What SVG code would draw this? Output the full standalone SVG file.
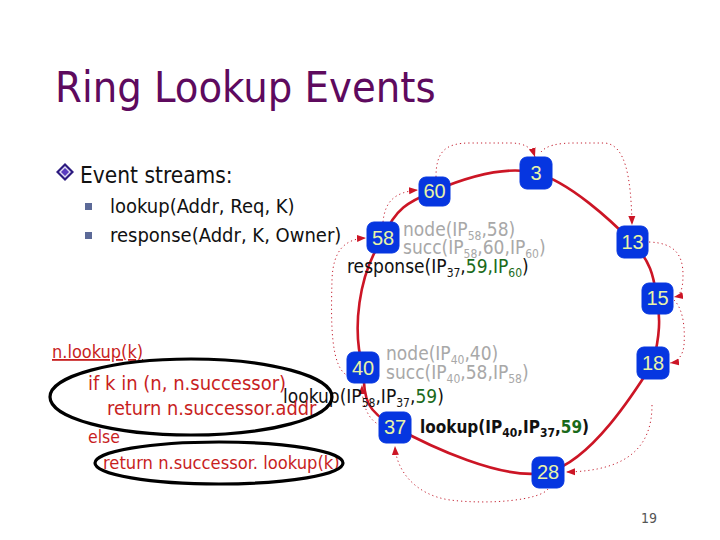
<svg xmlns="http://www.w3.org/2000/svg" width="720" height="540" viewBox="0 0 720 540">
<style>
text{font-family:"DejaVu Sans Condensed","DejaVu Sans",sans-serif;}
.title{font-size:43px;fill:#5e0a5e;}
.body{font-size:22.5px;fill:#111;}
.sub1{font-size:20px;fill:#111;}
.gray{font-size:19px;fill:#a8a8a8;}
.blk{font-size:19px;fill:#111;}
.bold{font-size:17px;fill:#111;font-weight:bold;}
.grn{fill:#1a6a1a;}
.s{font-size:12px;}
.code{fill:#c81e1e;}
.nbox{fill:#0636e0;stroke:#0636e0;stroke-width:1;}
.nlab{font-family:"Liberation Sans",Arial,sans-serif;font-size:20px;fill:#e8f4a8;text-anchor:middle;}
.ring{fill:none;stroke:#cc1525;stroke-width:2.6;}
.dot{fill:none;stroke:#c42030;stroke-width:1;stroke-dasharray:1.2 3;}
.ell{fill:none;stroke:#000;stroke-width:3.2;}
</style>
<defs>
<marker id="ah" markerWidth="10" markerHeight="10" refX="9" refY="5" orient="auto" markerUnits="userSpaceOnUse">
<path d="M0,1.5 L9,5 L0,8.5 Z" fill="#cc1525"/>
</marker>
</defs>
<rect width="720" height="540" fill="#fff"/>
<text class="title" x="55" y="102">Ring Lookup Events</text>
<g id="bullets">
<polygon points="65,163 74,172 65,181 56,172" fill="#2c1a80"/>
<polygon points="65,166 71,172 65,178 59,172" fill="#e0dcf4"/>
<polygon points="65,168 69,172 65,176 61,172" fill="#5a3cc0"/>
<rect x="85" y="203" width="7" height="7" fill="#5c6a98"/>
<rect x="85" y="232" width="7" height="7" fill="#5c6a98"/>
</g>
<text class="body" x="80" y="183">Event streams:</text>
<text class="sub1" x="110" y="213">lookup(Addr, Req, K)</text>
<text class="sub1" x="110" y="242">response(Addr, K, Owner)</text>
<g id="ring">
<path class="ring" d="M383,238 C394.8,208.5 408.5,201.8 434,191 C459.5,180.2 503,164.5 536,173 C569,181.5 611.8,221.2 632,242 C652.2,262.8 653.5,277.8 657,298 C660.5,318.2 660,335 653,363 C634.8,392 591,461.3 548,472 C505,482.7 425.8,444.3 395,427 C364.2,409.7 365,399.5 363,368 C352,330 358,275 383,238 Z"/>
</g>
<g id="connectors">
<path class="dot" marker-end="url(#ah)" d="M349,376 C330,370 331,320 332,280 C333,250 345,239 366,238"/>
<path class="dot" marker-end="url(#ah)" d="M383,222 C385,201 395,192 418,190"/>
<path class="dot" marker-end="url(#ah)" d="M436,177 C436,152 445,143 470,143 L510,143 C525,143 532,148 535,157"/>
<path class="dot" marker-end="url(#ah)" d="M541,152 C546,146 556,143 575,143 L605,143 C625,145 631,175 632,225"/>
<path class="dot" marker-end="url(#ah)" d="M649,242 C675,243 683,255 683,275 C683,290 680,296 674,297"/>
<path class="dot" marker-end="url(#ah)" d="M674,300 C684,310 685,330 684,345 C683,355 678,362 670,363"/>
<path class="dot" marker-end="url(#ah)" d="M652,405 C652,445 630,471 566,472"/>
<path class="dot" marker-end="url(#ah)" d="M548,489 C540,500 490,505 450,500 C415,495 396,470 395,446"/>
<path class="dot" marker-end="url(#ah)" d="M380,425 C368,420 362,405 362,385"/>
</g>
<g id="n58"><rect class="nbox" x="367" y="222" width="32" height="31" rx="7"/><text class="nlab" x="383" y="245">58</text></g>
<g id="n60"><rect class="nbox" x="419" y="177" width="31" height="29" rx="7"/><text class="nlab" x="434.5" y="198">60</text></g>
<g id="n3"><rect class="nbox" x="520" y="157" width="32" height="32" rx="7"/><text class="nlab" x="536" y="180">3</text></g>
<g id="n13"><rect class="nbox" x="617" y="226" width="31" height="32" rx="7"/><text class="nlab" x="632.5" y="249">13</text></g>
<g id="n15"><rect class="nbox" x="642" y="283" width="31" height="31" rx="7"/><text class="nlab" x="657.5" y="305">15</text></g>
<g id="n18"><rect class="nbox" x="637" y="347" width="32" height="32" rx="7"/><text class="nlab" x="653" y="370">18</text></g>
<g id="n28"><rect class="nbox" x="532" y="457" width="32" height="31" rx="7"/><text class="nlab" x="548" y="479">28</text></g>
<g id="n40"><rect class="nbox" x="347" y="352" width="32" height="31" rx="7"/><text class="nlab" x="363" y="375">40</text></g>
<g id="n37"><rect class="nbox" x="379" y="412" width="32" height="31" rx="7"/><text class="nlab" x="395" y="434">37</text></g>
<g id="labels">
<text class="gray" x="403" y="236">node(IP<tspan class="s" dy="4">58</tspan><tspan dy="-4">,58)</tspan></text>
<text class="gray" x="403" y="254">succ(IP<tspan class="s" dy="4">58</tspan><tspan dy="-4">,60,IP</tspan><tspan class="s" dy="4">60</tspan><tspan dy="-4">)</tspan></text>
<text class="blk" x="347" y="273">response(IP<tspan class="s" dy="4">37</tspan><tspan dy="-4">,</tspan><tspan class="grn">59,IP</tspan><tspan class="s grn" dy="4">60</tspan><tspan dy="-4">)</tspan></text>
<text class="gray" x="386" y="360">node(IP<tspan class="s" dy="4">40</tspan><tspan dy="-4">,40)</tspan></text>
<text class="gray" x="386" y="379">succ(IP<tspan class="s" dy="4">40</tspan><tspan dy="-4">,58,IP</tspan><tspan class="s" dy="4">58</tspan><tspan dy="-4">)</tspan></text>
<text class="blk" x="283" y="403">lookup(IP<tspan class="s" dy="4">58</tspan><tspan dy="-4">,IP</tspan><tspan class="s" dy="4">37</tspan><tspan dy="-4">,</tspan><tspan class="grn">59</tspan>)</text>
<text class="bold" x="420" y="433">lookup(IP<tspan class="s" dy="4">40</tspan><tspan dy="-4">,IP</tspan><tspan class="s" dy="4">37</tspan><tspan dy="-4">,</tspan><tspan class="grn">59</tspan>)</text>
</g>
<g id="code">
<text class="code" x="52" y="358" font-size="18" text-decoration="underline">n.lookup(k)</text>
<text class="code" x="88" y="390" font-size="20">if k in (n, n.successor)</text>
<text class="code" x="107" y="415" font-size="19.8">return n.successor.addr</text>
<text class="code" x="88" y="443" font-size="17.5">else</text>
<text class="code" x="103" y="469" font-size="18.2">return n.successor. lookup(k)</text>
<ellipse class="ell" cx="191" cy="397" rx="141" ry="38"/>
<ellipse class="ell" cx="219" cy="463" rx="124" ry="21"/>
</g>
<text x="641" y="523" font-size="14" fill="#555">19</text>
</svg>
